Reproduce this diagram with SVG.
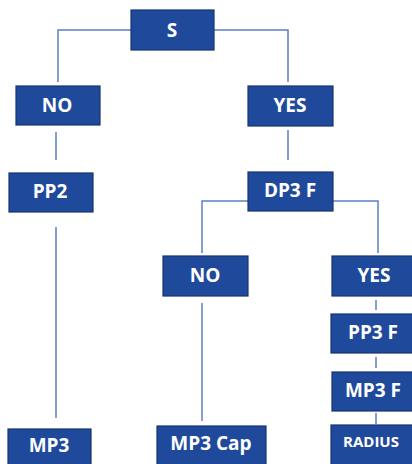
<svg xmlns="http://www.w3.org/2000/svg" width="412" height="464" viewBox="0 0 412 464">
<style>
.b{fill:#1f4a9c;stroke:#17346e;stroke-width:1.2}
.t{fill:#fff;font-family:"Open Sans","Liberation Sans",sans-serif;font-weight:bold;font-size:19px;text-anchor:middle;dominant-baseline:central}
.s{font-size:15px}
.c{fill:none;stroke:#5b7fc4;stroke-width:1.5}
</style>
<rect width="412" height="464" fill="#fff"/>
<g id="connectors">
<polyline class="c" points="131,30 58,30 58,82"/>
<polyline class="c" points="214,30 288,30 288,82"/>
<line class="c" x1="56" y1="132" x2="56" y2="160"/>
<line class="c" x1="288" y1="130" x2="288" y2="160"/>
<polyline class="c" points="248,201 202,201 202,253"/>
<polyline class="c" points="333,201 378,201 378,253"/>
<line class="c" x1="56" y1="227" x2="56" y2="418"/>
<line class="c" x1="202" y1="303" x2="202" y2="421"/>
<line class="c" x1="376" y1="300" x2="376" y2="310"/>
<line class="c" x1="376" y1="357" x2="376" y2="368"/>
<line class="c" x1="376" y1="413" x2="376" y2="424"/>
</g>
<g id="S"><rect class="b" x="131" y="10" width="83" height="40"/><text class="t" x="172" y="30">S</text></g>
<g id="NO1"><rect class="b" x="16" y="86" width="84" height="39"/><text class="t" x="57" y="105">NO</text></g>
<g id="YES1"><rect class="b" x="248" y="86" width="85" height="40"/><text class="t" x="290" y="105">YES</text></g>
<g id="PP2"><rect class="b" x="9" y="173" width="84" height="39"/><text class="t" x="50" y="191">PP2</text></g>
<g id="DP3F"><rect class="b" x="248" y="172" width="85" height="39"/><text class="t" x="290" y="190">DP3 F</text></g>
<g id="NO2"><rect class="b" x="163" y="256" width="85" height="40"/><text class="t" x="205" y="275">NO</text></g>
<g id="YES2"><rect class="b" x="332" y="256" width="82" height="40"/><text class="t" x="374" y="275">YES</text></g>
<g id="PP3F"><rect class="b" x="331" y="314" width="83" height="39"/><text class="t" x="373" y="332">PP3 F</text></g>
<g id="MP3F"><rect class="b" x="332" y="372" width="82" height="39"/><text class="t" x="373" y="390">MP3 F</text></g>
<g id="RADIUS"><rect class="b" x="331" y="425" width="83" height="41"/><text class="t s" x="371" y="441">RADIUS</text></g>
<g id="MP3"><rect class="b" x="8" y="429" width="83" height="37"/><text class="t" x="49" y="445">MP3</text></g>
<g id="MP3Cap"><rect class="b" x="157" y="426" width="109" height="40"/><text class="t" x="211" y="443">MP3 Cap</text></g>
</svg>
